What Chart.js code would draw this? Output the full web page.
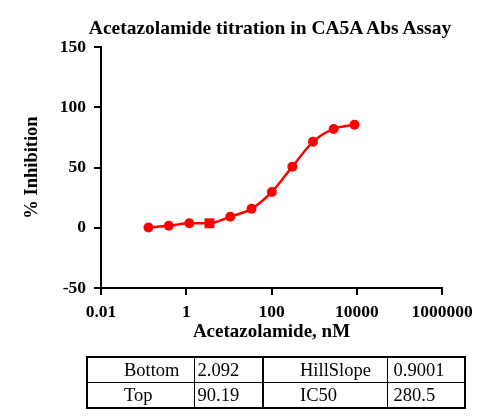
<!DOCTYPE html>
<html><head><meta charset="utf-8">
<script src="https://cdn.jsdelivr.net/npm/chart.js@4.4.1/dist/chart.umd.min.js"></script>
<style>
html,body{margin:0;padding:0;background:#fff;}
#wrap{position:relative;width:500px;height:420px;overflow:hidden;}
canvas{position:absolute;left:0;top:0;}
#title{position:absolute;left:70px;width:400px;top:16px;height:24px;line-height:24px;text-align:center;
  font-family:"Liberation Serif",Tinos,"Times New Roman","DejaVu Serif",serif;font-weight:bold;font-size:19.5px;color:#000;white-space:nowrap;}
#fit{position:absolute;left:86px;top:356px;width:378px;table-layout:fixed;border-collapse:collapse;border:2px solid #000;
  font-family:"Liberation Serif",Tinos,"Times New Roman","DejaVu Serif",serif;font-size:18.5px;color:#000;}
#fit td{border:1px solid #000;height:24px;line-height:24px;padding:0;white-space:nowrap;overflow:hidden;}
</style></head>
<body>
<div id="wrap">
<canvas id="c" width="500" height="420"></canvas>
<div id="title"></div>
<table id="fit"><colgroup><col style="width:107px"><col style="width:69px"><col style="width:124px"><col style="width:78px"></colgroup></table>
</div>
<script>
// ---- data ----
const concentrationsNM = [0.13, 0.39, 1.18, 3.5, 10.8, 34, 102, 308, 940, 2880, 8850];
const inhibition = [0.2, 1.6, 3.7, 3.7, 9.2, 15.7, 29.7, 50.7, 71.3, 82, 85.5];
const squareMarkerIndex = 3;
const xTickValues = [0.01, 1, 100, 10000, 1000000];
const yTickValues = [-50, 0, 50, 100, 150];
const fitRow1 = ['Bottom', '2.092', 'HillSlope', '0.9001'];
const fitRow2 = ['Top', '90.19', 'IC50', '280.5'];
const titleText = 'Acetazolamide titration in CA5A Abs Assay';
const xTitle = 'Acetazolamide, nM';
const yTitle = '% Inhibition';

document.getElementById('title').textContent = titleText;

// ---- table ----
const colPad = [36, 3, 36, 6];
const tbl = document.getElementById('fit');
[fitRow1, fitRow2].forEach(row => {
  const tr = document.createElement('tr');
  row.forEach((txt, i) => {
    const td = document.createElement('td');
    td.textContent = txt;
    td.style.paddingLeft = colPad[i] + 'px';
    if (i === 2) td.style.borderLeft = '2px solid #000';
    tr.appendChild(td);
  });
  tbl.appendChild(tr);
});

// ---- chart ----
const serif = '"Liberation Serif", Tinos, "Times New Roman", "DejaVu Serif", serif';
const red = '#ff0000';
new Chart(document.getElementById('c'), {
  type: 'scatter',
  data: {
    datasets: [{
      data: concentrationsNM.map((x, i) => ({ x: x, y: inhibition[i] })),
      showLine: true,
      borderColor: red,
      backgroundColor: red,
      borderWidth: 2.5,
      cubicInterpolationMode: 'monotone',
      pointStyle: c => c.dataIndex === squareMarkerIndex ? 'rect' : 'circle',
      pointRadius: c => c.dataIndex === squareMarkerIndex ? 7 : 5,
      pointBorderWidth: 0,
      pointHoverRadius: 5
    }]
  },
  options: {
    responsive: false,
    animation: false,
    devicePixelRatio: 1,
    layout: { padding: { left: 0, right: 58, top: 47, bottom: 75 } },
    plugins: {
      legend: { display: false },
      tooltip: { enabled: false },
      title: { display: false }
    },
    scales: {
      x: {
        type: 'logarithmic', min: 0.01, max: 1000000,
        afterBuildTicks: s => { s.ticks = xTickValues.map(v => ({ value: v })); },
        afterFit: s => { s.height = 57; },
        ticks: {
          color: '#000', padding: 7, maxRotation: 0, autoSkip: false,
          font: { family: serif, size: 17.5, weight: 'bold' },
          callback: v => String(v)
        },
        grid: { display: true, drawOnChartArea: false, drawTicks: true, tickLength: 7, color: '#000', lineWidth: 2 },
        border: { display: true, color: '#000', width: 2 },
        title: {
          display: true, text: xTitle, color: '#000',
          font: { family: serif, size: 19, weight: 'bold' },
          padding: { top: 0, bottom: 1.5 }
        }
      },
      y: {
        type: 'linear', min: -50, max: 150,
        afterBuildTicks: s => { s.ticks = yTickValues.map(v => ({ value: v })); },
        afterFit: s => { s.width = 101; },
        ticks: {
          color: '#000', padding: 8,
          font: { family: serif, size: 17.5, weight: 'bold' }
        },
        grid: { display: true, drawOnChartArea: false, drawTicks: true, tickLength: 7, color: '#000', lineWidth: 2 },
        border: { display: true, color: '#000', width: 2 },
        title: {
          display: true, text: yTitle, color: '#000',
          font: { family: serif, size: 18.5, weight: 'bold' },
          padding: { top: 21, bottom: 0 }
        }
      }
    }
  }
});
</script>
</body></html>
